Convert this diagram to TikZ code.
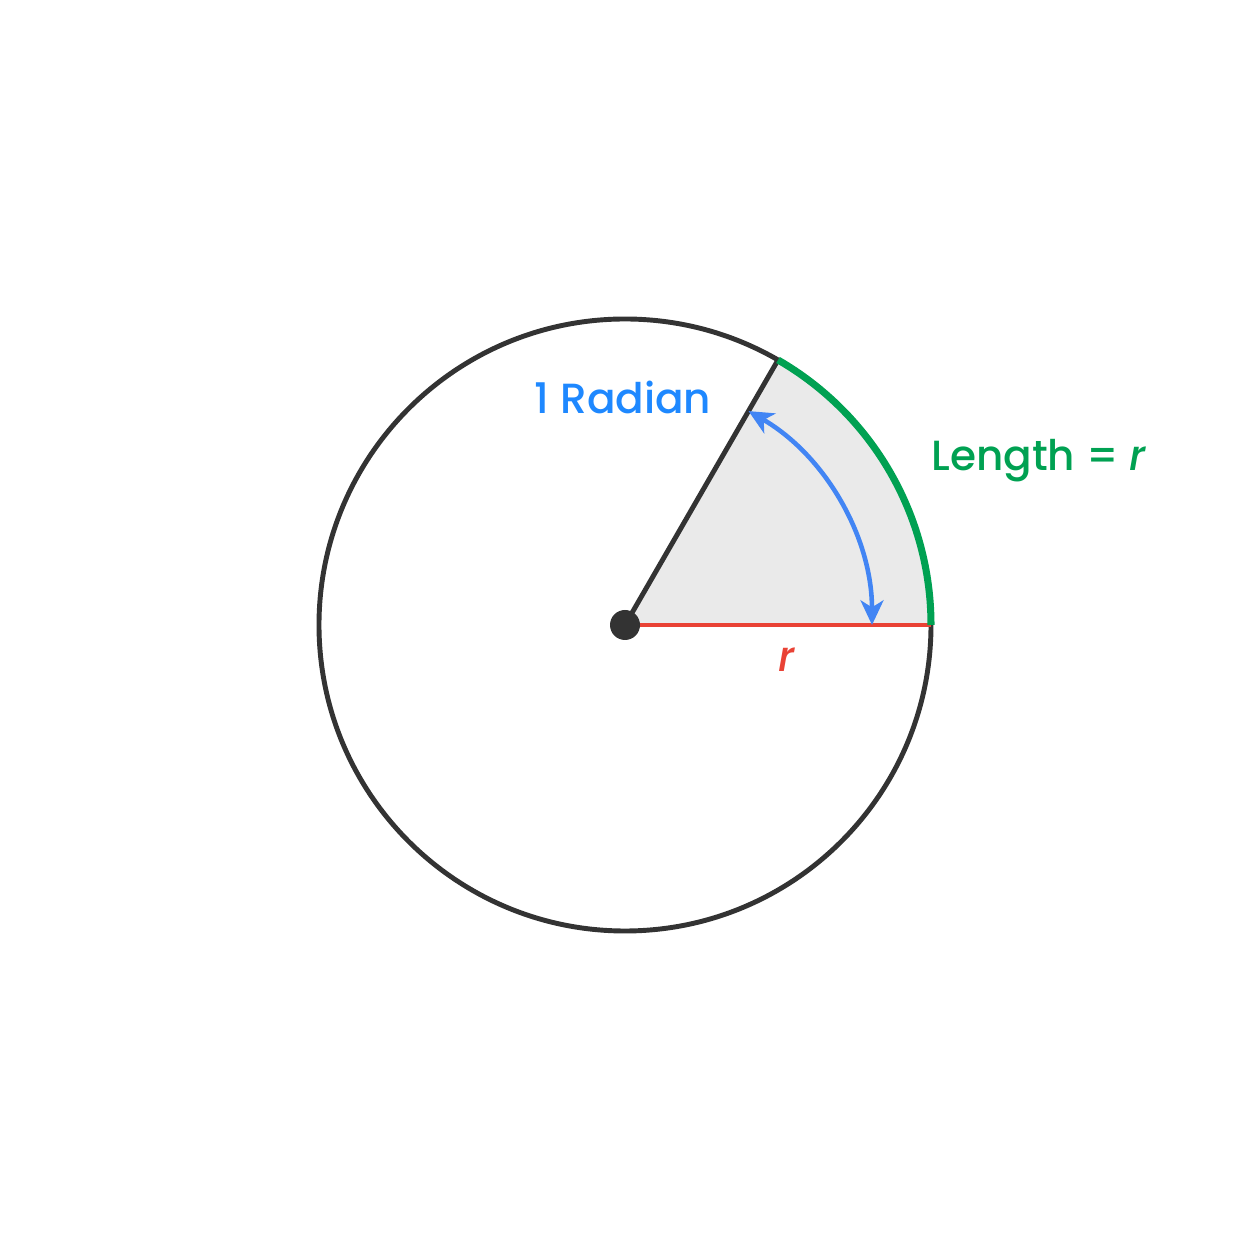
\documentclass[tikz,border=0pt]{standalone}
\usepackage{fontspec}
\setmainfont{Poppins Medium}[ItalicFont={Poppins Medium Italic}]
\usetikzlibrary{arrows.meta}

\definecolor{ringgray}{HTML}{333333}
\definecolor{sectorgray}{HTML}{EAEAEA}
\definecolor{radblue}{HTML}{4285F4}
\definecolor{labelblue}{HTML}{1E88FF}
\definecolor{arcgreen}{HTML}{00A152}
\definecolor{radred}{HTML}{E94235}

\begin{document}
\begin{tikzpicture}[font=\fontsize{12}{15}\selectfont]
\useasboundingbox (-6.25,-6.26) rectangle (6.25,6.25);

% points
\coordinate (O) at (0,0);
\coordinate (A) at (3.06,0);
\coordinate (B) at (60:3.06);

% sector
\fill[sectorgray] (O) -- (A) arc[start angle=0, end angle=60, radius=3.06] -- cycle;

% circle and radii
\draw[line width=1.4pt, ringgray] (O) circle (3.06);
\draw[line width=1.4pt, ringgray] (O) -- (B);
\draw[line width=1.4pt, radred] (O) -- (A);
\draw[line width=2pt, arcgreen] (A) arc[start angle=0, end angle=60, radius=3.06];

% angle
\draw[line width=1.3pt, radblue, {Stealth[length=7pt, width=6.5pt, inset=2pt]}-{Stealth[length=7pt, width=6.5pt, inset=2pt]}] (60:2.47) arc[start angle=60, end angle=0, radius=2.47];

% center
\fill[ringgray] (O) circle (0.15);

% labels
\node[labelblue] (rad) at (-0.02,2.28) {1 Radian};
\node[arcgreen, anchor=west] (len) at (2.94,1.64) {Length = \textit{r}};
\node[radred] (r) at (1.62,-0.35) {\textit{r}};

\end{tikzpicture}
\end{document}
